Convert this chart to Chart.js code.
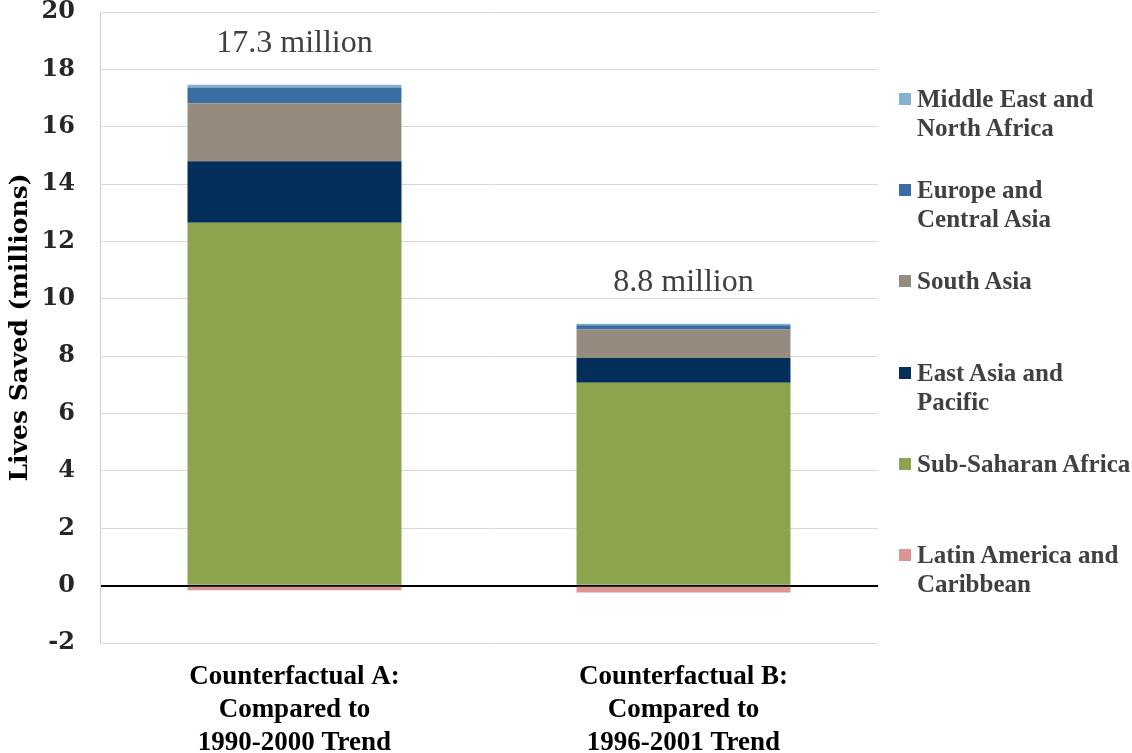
<!DOCTYPE html>
<html lang="en">
<head>
  <meta charset="UTF-8">
  <title>Lives Saved</title>
  <script src="https://cdn.jsdelivr.net/npm/chart.js@4"></script>
  <style>
    * { margin: 0; padding: 0; box-sizing: border-box; }
    body { background: #fff; width: 1132px; height: 753px; overflow: hidden; position: relative; }
    #wrap { position: absolute; left: 0; top: 0; width: 1132px; height: 753px; }
    #legend { position: absolute; left: 899px; top: 84px; font-family: 'Liberation Serif', serif; font-weight: bold; font-size: 25px; color: #404040; }
    .item { position: relative; height: 91.2px; padding-left: 18px; line-height: 29px; white-space: nowrap; }
    .sw { position: absolute; left: 0; top: 9px; width: 12px; height: 12px; }
  </style>
</head>
<body>
  <div id="wrap"><canvas id="c" width="1132" height="753"></canvas></div>
  <div id="legend"></div>
  <script>
    const categories = [
      ['Counterfactual A:', 'Compared to', '1990-2000 Trend'],
      ['Counterfactual B:', 'Compared to', '1996-2001 Trend']
    ];
    const totalLabels = ['17.3 million', '8.8 million'];
    const yTicks = { min: -2, max: 20, step: 2 };

    const latinAmerica = [-0.16, -0.24];
    const subSaharanAfrica = [12.65, 7.07];
    const eastAsiaPacific = [2.15, 0.87];
    const southAsia = [2.02, 0.99];
    const europeCentralAsia = [0.55, 0.15];
    const middleEastNorthAfrica = [0.09, 0.05];

    const series = [
      { label: 'Latin America and Caribbean', data: latinAmerica, color: '#dc9593' },
      { label: 'Sub-Saharan Africa', data: subSaharanAfrica, color: '#8aa54b' },
      { label: 'East Asia and Pacific', data: eastAsiaPacific, color: '#042f5b' },
      { label: 'South Asia', data: southAsia, color: '#958c7f' },
      { label: 'Europe and Central Asia', data: europeCentralAsia, color: '#3a6da3' },
      { label: 'Middle East and North Africa', data: middleEastNorthAfrica, color: '#86b2cf' }
    ];
    const legendText = {
      'Latin America and Caribbean': 'Latin America and<br>Caribbean',
      'Sub-Saharan Africa': 'Sub-Saharan Africa',
      'East Asia and Pacific': 'East Asia and<br>Pacific',
      'South Asia': 'South Asia',
      'Europe and Central Asia': 'Europe and<br>Central Asia',
      'Middle East and North Africa': 'Middle East and<br>North Africa'
    };

    const legendEl = document.getElementById('legend');
    legendEl.innerHTML = series.slice().reverse().map(s =>
      `<div class="item"><span class="sw" style="background:${s.color}"></span>${legendText[s.label]}</div>`
    ).join('');

    // labels like "17.3 million" above each stack
    const totalsPlugin = {
      id: 'totals',
      afterDatasetsDraw(chart) {
        const { ctx } = chart;
        const y = chart.scales.y;
        const x = chart.scales.x;
        ctx.save();
        ctx.font = '32px "Liberation Serif", serif';
        ctx.fillStyle = '#404040';
        ctx.textAlign = 'center';
        ctx.textBaseline = 'middle';
        totalLabels.forEach((t, i) => {
          const top = series.reduce((s, d) => s + (d.data[i] > 0 ? d.data[i] : 0), 0);
          ctx.fillText(t, x.getPixelForValue(i), y.getPixelForValue(top) - 41);
        });
        ctx.restore();
      }
    };

    new Chart(document.getElementById('c'), {
      type: 'bar',
      data: {
        labels: categories,
        datasets: series.map(s => ({
          label: s.label,
          data: s.data,
          backgroundColor: s.color,
          borderWidth: 0,
          categoryPercentage: 1,
          barPercentage: 0.55
        }))
      },
      options: {
        responsive: false,
        animation: false,
        layout: { padding: { top: 0, right: 254, bottom: 0, left: 0 } },
        plugins: { legend: { display: false }, tooltip: { enabled: false } },
        scales: {
          x: {
            stacked: true,
            grid: { display: false },
            border: { display: false },
            ticks: {
              color: '#000',
              padding: 10,
              font: { family: '"Liberation Serif", serif', size: 27, weight: 'bold', lineHeight: 1.22 }
            },
            afterFit: s => { s.height = 110; }
          },
          y: {
            stacked: true,
            min: yTicks.min,
            max: yTicks.max,
            ticks: {
              stepSize: yTicks.step,
              color: '#262626',
              padding: 0,
              font: { family: '"DejaVu Serif", serif', size: 24, weight: 'bold', lineHeight: 1 }
            },
            grid: {
              drawTicks: true,
              tickLength: 25,
              tickColor: 'rgba(0,0,0,0)',
              color: ctx => ctx.tick && ctx.tick.value === 0 ? '#000' : '#d9d9d9',
              lineWidth: ctx => ctx.tick && ctx.tick.value === 0 ? 2 : 1
            },
            border: { color: '#d0d0d0' },
            title: {
              display: true,
              text: 'Lives Saved (millions)',
              color: '#000',
              padding: { top: 5, bottom: 0 },
              font: { family: '"DejaVu Serif", serif', size: 25, weight: 'bold' }
            },
            afterFit: s => { s.width = 100; }
          }
        }
      },
      plugins: [totalsPlugin]
    });
  </script>
</body>
</html>
